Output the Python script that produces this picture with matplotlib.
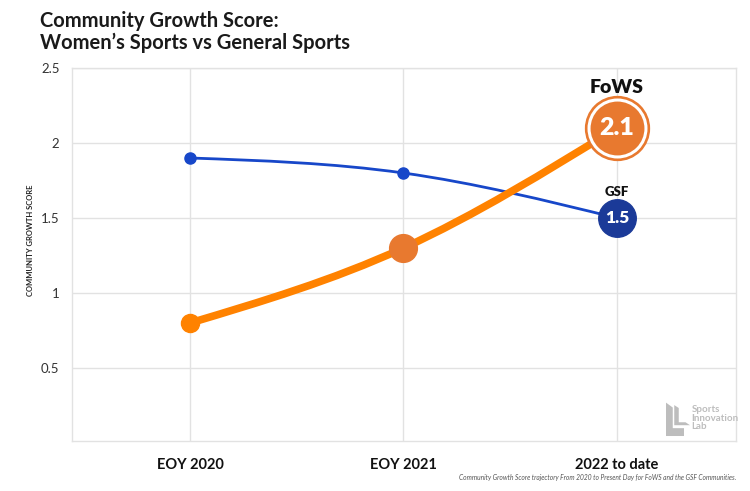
import matplotlib.pyplot as plt
from matplotlib.path import Path
from matplotlib.patches import PathPatch, Polygon

categories = ["EOY 2020", "EOY 2021", "2022 to date"]
gsf = [1.9, 1.8, 1.5]
fows = [0.8, 1.3, 2.1]
yticks = [0.5, 1, 1.5, 2, 2.5]

BLUE = "#1747c9"
NAVY = "#1b3a98"
ORANGE = "#ff8200"
ORANGE_DARK = "#e8792f"
GRID = "#e2e2e2"


def monotone_path(xs, ys):
    # d3 curveMonotoneX style bezier through the points
    n = len(xs)
    h = [xs[i + 1] - xs[i] for i in range(n - 1)]
    s = [(ys[i + 1] - ys[i]) / h[i] for i in range(n - 1)]
    m = [0.0] * n
    for i in range(1, n - 1):
        p = (s[i - 1] * h[i] + s[i] * h[i - 1]) / (h[i - 1] + h[i])
        sg = (1 if s[i - 1] > 0 else -1) + (1 if s[i] > 0 else -1)
        m[i] = sg * min(abs(s[i - 1]), abs(s[i]), 0.5 * abs(p))
    m[0] = (3 * s[0] - m[1]) / 2
    m[-1] = (3 * s[-1] - m[-2]) / 2
    verts = [(xs[0], ys[0])]
    codes = [Path.MOVETO]
    for i in range(n - 1):
        d = h[i] / 3
        verts += [(xs[i] + d, ys[i] + m[i] * d),
                  (xs[i + 1] - d, ys[i + 1] - m[i + 1] * d),
                  (xs[i + 1], ys[i + 1])]
        codes += [Path.CURVE4] * 3
    return Path(verts, codes)


plt.rcParams['font.family'] = ['Lato', 'DejaVu Sans']

fig = plt.figure(figsize=(7.5, 4.91), dpi=100)
ax = fig.add_axes([0.096, 0.1018, 0.885, 0.7597])
x = list(range(len(categories)))

ax.set_xlim(-0.553, 2.557)
ax.set_ylim(0.013, 2.5)
ax.set_xticks(x)
ax.set_xticklabels(categories, fontsize=10.5, fontweight='bold', color='#111111')
ax.set_yticks(yticks)
ax.set_yticklabels(["0.5", "1", "1.5", "2", "2.5"], fontsize=9.5, color='#333333')
ax.tick_params(axis='y', length=0, pad=9)
ax.tick_params(axis='x', length=0, pad=12)
ax.grid(True, color=GRID, linewidth=1)
ax.set_axisbelow(True)
for sp in ax.spines.values():
    sp.set_color(GRID)
    sp.set_linewidth(1)

# GSF line
ax.add_patch(PathPatch(monotone_path(x, gsf), facecolor='none', edgecolor=BLUE,
                       linewidth=2, zorder=3, capstyle='round'))
ax.plot(x[:2], gsf[:2], 'o', color=BLUE, ms=8, zorder=4)
ax.plot(x[2], gsf[2], 'o', color=NAVY, ms=27, zorder=5)
ax.text(x[2], gsf[2], "1.5", color='white', fontsize=12.5, fontweight='heavy',
        ha='center', va='center', zorder=6)
ax.annotate("GSF", (x[2], gsf[2]), xytext=(0, 19), textcoords='offset points',
            ha='center', va='center', fontsize=9.5, fontweight='heavy', color='#111111')

# FoWS line
ax.add_patch(PathPatch(monotone_path(x, fows), facecolor='none', edgecolor=ORANGE,
                       linewidth=5.5, zorder=7, capstyle='round'))
ax.plot(x[0], fows[0], 'o', color=ORANGE, ms=13, zorder=8)
ax.plot(x[1], fows[1], 'o', color=ORANGE_DARK, ms=20, zorder=8)
ax.plot(x[2], fows[2], 'o', color=ORANGE_DARK, ms=46, zorder=8)
ax.plot(x[2], fows[2], 'o', color='none', mec='white', mew=2.2, ms=41, zorder=9)
ax.text(x[2], fows[2], "2.1", color='white', fontsize=18, fontweight='heavy',
        ha='center', va='center', zorder=10)
ax.annotate("FoWS", (x[2], fows[2]), xytext=(0, 29), textcoords='offset points',
            ha='center', va='center', fontsize=14, fontweight='heavy', color='#111111')

# titles and notes
fig.text(0.054, 0.935, "Community Growth Score:\nWomen\u2019s Sports vs General Sports",
         fontsize=14.5, fontweight='bold', color='#1a1a1a', va='center', ha='left',
         linespacing=1.15)
fig.text(0.041, 0.51, "COMMUNITY GROWTH SCORE", rotation=90, fontsize=5.5,
         fontweight='bold', color='#222222', ha='center', va='center')
fig.text(0.982, 0.027, "Community Growth Score trajectory From 2020 to Present Day for FoWS and the GSF Communities.",
         fontsize=4.8, style='italic', color='#555555', ha='right', va='center')

# logo
logo_col = '#bdbdbd'
fig.patches.append(Polygon([(0.888, 0.18), (0.897, 0.17), (0.897, 0.128), (0.912, 0.128),
                            (0.912, 0.112), (0.888, 0.112)], closed=True,
                           transform=fig.transFigure, facecolor=logo_col, edgecolor='none'))
fig.patches.append(Polygon([(0.899, 0.175), (0.905, 0.169), (0.905, 0.14), (0.914, 0.14),
                            (0.920, 0.134), (0.899, 0.134)], closed=True,
                           transform=fig.transFigure, facecolor=logo_col, edgecolor='none'))
fig.text(0.922, 0.148, "Sports\nInnovation\nLab", fontsize=7, color=logo_col,
         ha='left', va='center', linespacing=0.95, fontweight='bold')

fig.savefig("out.png", dpi=100, facecolor='white')
